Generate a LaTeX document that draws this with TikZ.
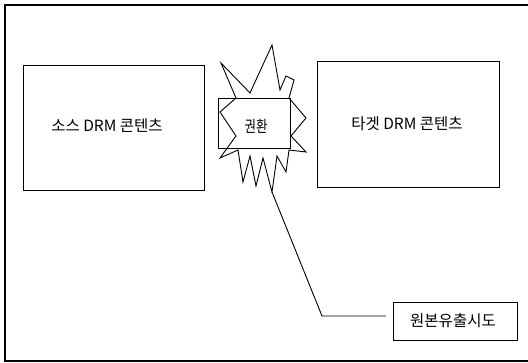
\documentclass[tikz,border=0pt]{standalone}
\usepackage{fontspec}
\setmainfont{Noto Sans CJK KR}
\begin{document}
\begin{tikzpicture}[x=1pt,y=-1pt,
  ln/.style={line width=0.9pt,black},
  box/.style={ln,draw,rectangle,inner sep=0pt},
  lbl/.style={font=\fontsize{15.5}{17}\selectfont},
  slbl/.style={font=\fontsize{16}{18}\selectfont,xscale=0.78}]
\useasboundingbox (0,0) rectangle (528,363);
% outer frame (right side beyond the picture)
\draw[line width=1.3pt] (528,5) -- (5,5) -- (5,361) -- (528,361);
% source box
\node[box,minimum width=181pt,minimum height=125pt] (src) at (113.5,127.5) {};
\node[lbl] (srct) at (107,126) {소스 DRM 콘텐츠};
% target box
\node[box,minimum width=182pt,minimum height=126pt] (tgt) at (408,124) {};
\node[lbl] (tgtt) at (407,124) {타겟 DRM 콘텐츠};
% starburst
\draw[ln,line join=miter] (221,63) -- (250,93) -- (272,45) -- (280,90) -- (286,76) -- (294,80)
  -- (289,98) -- (306,118) -- (291,136) -- (306,152) -- (289,150) -- (286,172)
  -- (277,156) -- (272,192) -- (263,158) -- (256,186) -- (250,156) -- (243,182)
  -- (238,150) -- (220,158) -- (236,136) -- (220,112) -- (236,98) -- cycle;
\coordinate (burst) at (272,192);
% conversion rectangle
\node[box,minimum width=72pt,minimum height=50pt] (conv) at (254,123) {};
\node[slbl] (convt) at (256,126) {권환};
% leak box
\node[box,minimum width=124pt,minimum height=38pt] (leak) at (455,321) {};
\node[lbl] (leakt) at (453,321) {원본유출시도};
\coordinate (bend) at (322,316);
\coordinate (lend) at (386,316);
\draw[ln] (burst) -- (bend) -- (lend);
\end{tikzpicture}
\end{document}
